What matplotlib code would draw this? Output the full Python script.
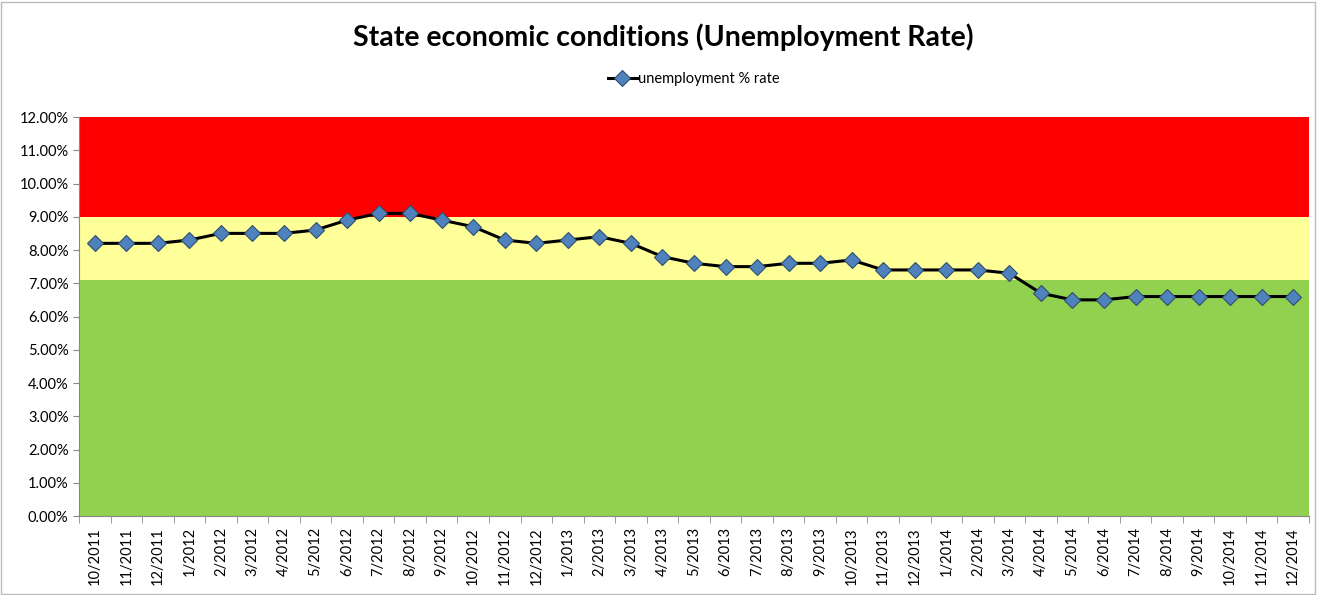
import matplotlib.pyplot as plt
from matplotlib.ticker import PercentFormatter, FixedLocator, NullFormatter

months = ["10/2011", "11/2011", "12/2011",
          "1/2012", "2/2012", "3/2012", "4/2012", "5/2012", "6/2012",
          "7/2012", "8/2012", "9/2012", "10/2012", "11/2012", "12/2012",
          "1/2013", "2/2013", "3/2013", "4/2013", "5/2013", "6/2013",
          "7/2013", "8/2013", "9/2013", "10/2013", "11/2013", "12/2013",
          "1/2014", "2/2014", "3/2014", "4/2014", "5/2014", "6/2014",
          "7/2014", "8/2014", "9/2014", "10/2014", "11/2014", "12/2014"]
rate = [8.2, 8.2, 8.2,
        8.3, 8.5, 8.5, 8.5, 8.6, 8.9,
        9.1, 9.1, 8.9, 8.7, 8.3, 8.2,
        8.3, 8.4, 8.2, 7.8, 7.6, 7.5,
        7.5, 7.6, 7.6, 7.7, 7.4, 7.4,
        7.4, 7.4, 7.3, 6.7, 6.5, 6.5,
        6.6, 6.6, 6.6, 6.6, 6.6, 6.6]

# colour bands: (bottom, top, colour)
bands = [(0, 7.1, "#92D050"), (7.1, 9.0, "#FFFF99"), (9.0, 12.0, "#FF0000")]

plt.rcParams['font.family'] = ['Lato', 'DejaVu Sans']

fig = plt.figure(figsize=(13.27, 5.95), dpi=100)
ax = fig.add_axes([79 / 1327, 1 - 516 / 595, 1230 / 1327, 399 / 595])

x = list(range(len(months)))
for lo, hi, c in bands:
    ax.axhspan(lo, hi, color=c, lw=0, zorder=0)

ax.plot(x, rate, color="black", lw=2.2, marker="D", markersize=8.5,
        markerfacecolor="#4F81BD", markeredgecolor="#2F4F6F", markeredgewidth=0.8,
        label="unemployment % rate", zorder=3)

ax.set_xlim(-0.5, len(months) - 0.5)
ax.set_ylim(0, 12)
ax.set_yticks(range(0, 13))
ax.yaxis.set_major_formatter(PercentFormatter(decimals=2))

ax.set_xticks(x)
ax.set_xticklabels(months, rotation=90, fontsize=10.5)
ax.tick_params(axis="x", which="major", length=0, pad=8)
ax.xaxis.set_minor_locator(FixedLocator([i - 0.5 for i in range(len(months) + 1)]))
ax.xaxis.set_minor_formatter(NullFormatter())
ax.tick_params(axis="x", which="minor", length=5, color="#888888")
ax.tick_params(axis="y", length=4, color="#888888", labelsize=10.5)

for s in ["top", "right"]:
    ax.spines[s].set_visible(False)
for s in ["left", "bottom"]:
    ax.spines[s].set_color("#888888")

fig.suptitle("State economic conditions (Unemployment Rate)", fontsize=20.5,
             fontweight="bold", y=0.96)
ax.legend(loc="lower center", bbox_to_anchor=(0.5, 1.045), frameon=False,
          fontsize=10.5, handlelength=2.0, handletextpad=0.1)

fig.patches.append(plt.Rectangle((0.001, 0.002), 0.99, 0.995, transform=fig.transFigure,
                                 fill=False, edgecolor="#BBBBBB", lw=1))

fig.savefig("out.png", dpi=100)
